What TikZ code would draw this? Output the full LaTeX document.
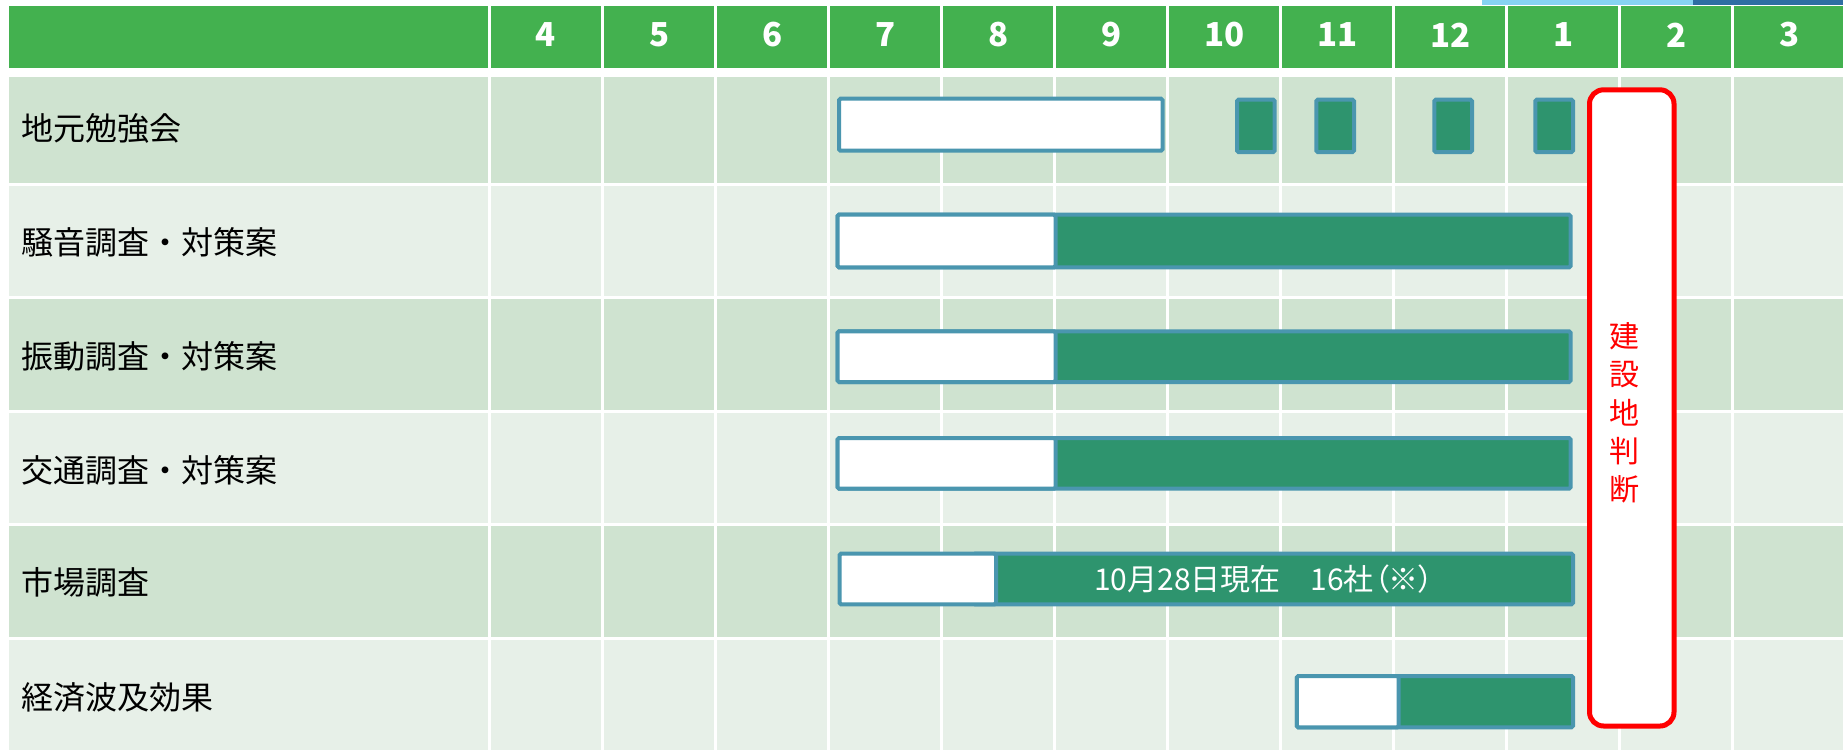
\documentclass[tikz,border=0pt]{standalone}
\usepackage{fontspec}
\setmainfont{Noto Sans CJK JP}
\newfontfamily\barfont{Noto Sans CJK JP}[RawFeature=+palt]
\definecolor{hdrgreen}{HTML}{43B14F}
\definecolor{rowdark}{HTML}{CFE3D0}
\definecolor{rowlight}{HTML}{E7F0E8}
\definecolor{barblue}{HTML}{4A96AF}
\definecolor{bargreen}{HTML}{2E946E}
\definecolor{stripltblue}{HTML}{86D3F2}
\definecolor{stripdkblue}{HTML}{2E6EA3}
\tikzset{
  monthlbl/.style={text=white, inner sep=0pt, font=\fontsize{33}{36}\selectfont\bfseries},
  rowlbl/.style={text=black, inner sep=0pt, anchor=west, font=\fontsize{32}{36}\selectfont},
  wbar/.style={draw=barblue, line width=4pt, fill=white, rounded corners=1.5pt},
  gbar/.style={draw=barblue, line width=4pt, fill=bargreen, rounded corners=1.5pt},
  judgebox/.style={draw=red, line width=5pt, fill=white, rounded corners=14pt},
  judgetxt/.style={text=red, inner sep=0pt, align=center, font=\fontsize{30}{38.2}\selectfont},
  bartxt/.style={text=white, inner sep=0pt, font=\barfont\fontsize{30}{34}\selectfont}
}
\begin{document}
\begin{tikzpicture}[x=1pt,y=-1pt]
\useasboundingbox (0,0) rectangle (1843,750);
\fill[white] (0,0) rectangle (1843,750);
% top strip fragment
\fill[stripltblue] (1482,0) rectangle (1693,4.5);
\fill[stripdkblue] (1693,0) rectangle (1843,4.5);
% header
\fill[hdrgreen] (9,6) rectangle (488,68);
\foreach \k in {0,...,11}{
  \pgfmathsetmacro\xa{491+113.04*\k}
  \pgfmathsetmacro\xb{\xa+110}
  \fill[hdrgreen] (\xa,6) rectangle (\xb,68);
}
\foreach \k/\m in {0/4,1/5,2/6,3/7,4/8,5/9,6/10,7/11,8/12,9/1,10/2,11/3}{
  \pgfmathsetmacro\xc{546+113.04*\k}
  \node[monthlbl] (m\k) at (\xc,35) {\m};
}
% rows
\foreach \top/\bot/\c in {77/182.5/rowdark, 185.8/296.3/rowlight, 299.3/409.8/rowdark, 412.8/523.3/rowlight, 526.3/636.8/rowdark, 639.8/750/rowlight}{
  \fill[\c] (9,\top) rectangle (488,\bot);
  \foreach \k in {0,...,11}{
    \pgfmathsetmacro\xa{491+113.04*\k}
    \pgfmathsetmacro\xb{\xa+110}
    \fill[\c] (\xa,\top) rectangle (\xb,\bot);
  }
}
% row labels
\node[rowlbl] (r1) at (21,128) {地元勉強会};
\node[rowlbl] (r2) at (21,242) {騒音調査・対策案};
\node[rowlbl] (r3) at (21,356) {振動調査・対策案};
\node[rowlbl] (r4) at (21,470) {交通調査・対策案};
\node[rowlbl] (r5) at (21,582) {市場調査};
\node[rowlbl] (r6) at (21,697) {経済波及効果};
% row 1 bars
\path[wbar] (839,98.7) rectangle (1162.6,150.7);
\path[gbar] (1237,99.7) rectangle (1274.7,152);
\path[gbar] (1316.3,99.7) rectangle (1354,152);
\path[gbar] (1434.3,99.7) rectangle (1472,152);
\path[gbar] (1535.3,99.7) rectangle (1573,152);
% rows 2-4
\foreach \ya/\yb in {214.7/267.3, 331.3/382, 438/488.7}{
  \path[gbar] (837.6,\ya) rectangle (1570.6,\yb);
  \path[wbar] (837.6,\ya) rectangle (1055.5,\yb);
}
% row 5
\path[gbar] (973.7,553.7) rectangle (1573,604.3);
\path[wbar] (839.5,553.7) rectangle (996,604.3);
\node[bartxt] (note) at (1264,578.7) {10月28日現在　16社（※）};
% row 6
\path[gbar] (1296.8,676) rectangle (1573,727.3);
\path[wbar] (1296.8,676) rectangle (1398.7,727.3);
% decision box
\path[judgebox] (1589.5,89.8) rectangle (1674,726);
\node[judgetxt] (judge) at (1624,413) {建\\設\\地\\判\\断};
\end{tikzpicture}
\end{document}
